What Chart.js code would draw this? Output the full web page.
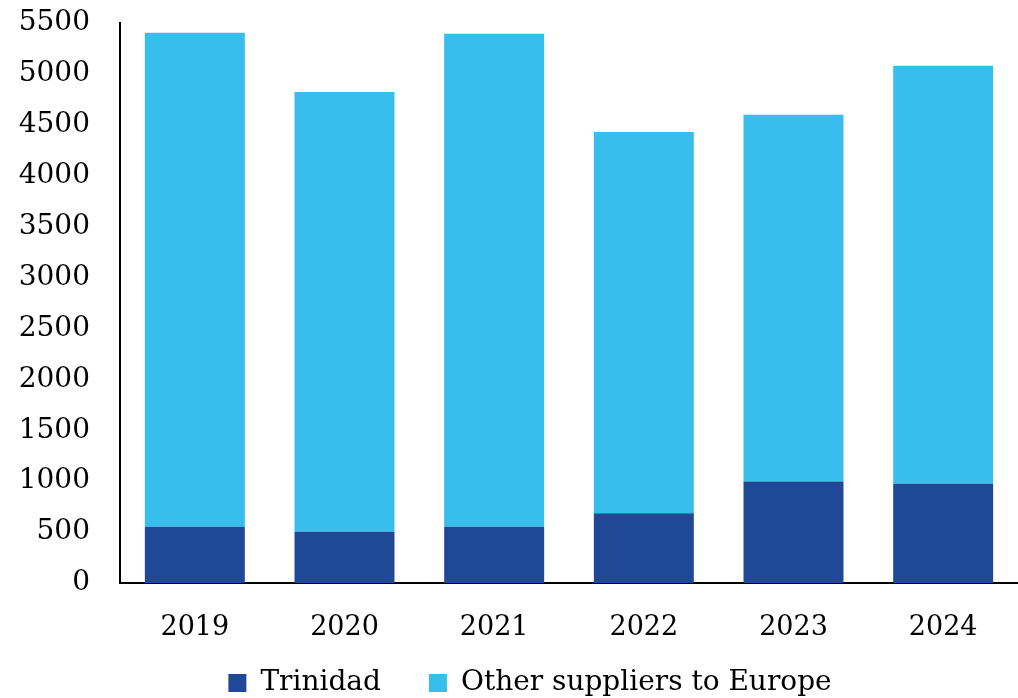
<!DOCTYPE html>
<html lang="en">
<head>
  <meta charset="UTF-8">
  <title>Trinidad vs other suppliers to Europe</title>
  <script src="https://cdn.jsdelivr.net/npm/chart.js"></script>
  <style>
    body {
      margin: 0;
      padding: 0;
      background: #fff;
    }
    #wrap {
      width: 1018px;
      height: 698px;
    }
  </style>
</head>
<body>
  <div id="wrap"><canvas id="supplyChart"></canvas></div>

  <script>
    const years = ['2019', '2020', '2021', '2022', '2023', '2024'];
    const trinidad = [553, 504, 553, 685, 996, 976];
    const otherSuppliers = [4851, 4319, 4841, 3745, 3604, 4103];
    const yTicks = [0, 500, 1000, 1500, 2000, 2500, 3000, 3500, 4000, 4500, 5000, 5500];

    const fontFamily = "'DejaVu Serif', 'Liberation Serif', serif";

    // nudge the legend a bit to the right, like the original
    const legendShift = {
      id: 'legendShift',
      afterLayout(chart) {
        if (chart.legend) {
          chart.legend.left += 21;
          chart.legend.right += 21;
        }
      }
    };

    new Chart(document.getElementById('supplyChart'), {
      type: 'bar',
      data: {
        labels: years,
        datasets: [
          {
            label: 'Trinidad',
            data: trinidad,
            backgroundColor: '#1f4896'
          },
          {
            label: 'Other suppliers to Europe',
            data: otherSuppliers,
            backgroundColor: '#37beed'
          }
        ]
      },
      options: {
        responsive: true,
        maintainAspectRatio: false,
        animation: false,
        layout: {
          padding: { top: 0, right: 0, left: 0, bottom: -9 }
        },
        datasets: {
          bar: { barPercentage: 0.668, categoryPercentage: 1 }
        },
        scales: {
          x: {
            stacked: true,
            afterFit: scale => {
              // let the year labels run into the legend's top padding
              scale.height = 38;
              scale._computeLabelArea = () => undefined;
            },
            grid: { display: false, drawTicks: false },
            border: { display: true, color: '#000', width: 2 },
            ticks: {
              color: '#000',
              padding: 29,
              font: { family: fontFamily, size: 27 }
            }
          },
          y: {
            stacked: true,
            min: 0,
            max: 5500,
            afterFit: scale => {
              scale.width = 120;
              scale.paddingTop = 23;
            },
            afterBuildTicks: scale => {
              scale.ticks = yTicks.map(v => ({ value: v }));
            },
            grid: { display: false, drawTicks: false },
            border: { display: true, color: '#000', width: 2 },
            ticks: {
              color: '#000',
              padding: 30,
              font: { family: fontFamily, size: 28 },
              callback: v => String(v)
            }
          }
        },
        plugins: {
          legend: {
            position: 'bottom',
            labels: {
              color: '#000',
              boxWidth: 18,
              boxHeight: 18,
              padding: 48,
              font: { family: fontFamily, size: 28 }
            }
          },
          tooltip: { enabled: false }
        }
      },
      plugins: [legendShift]
    });
  </script>
</body>
</html>
